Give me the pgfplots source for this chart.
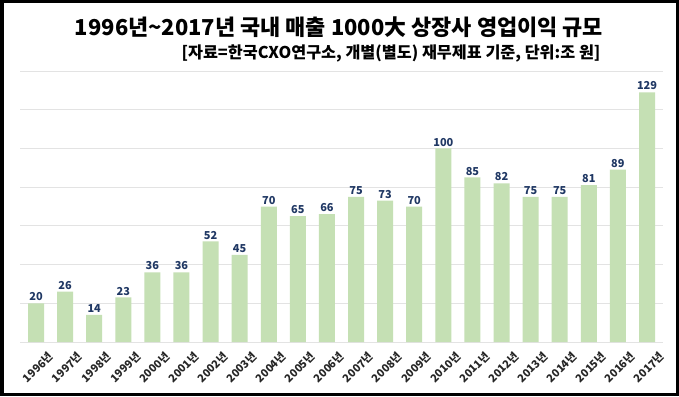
\documentclass[border=0pt]{standalone}
\usepackage{fontspec}
\setmainfont{Noto Sans CJK KR}
\usepackage{pgfplots}
\pgfplotsset{compat=1.18}
\definecolor{barg}{HTML}{C5E0B4}
\definecolor{lab}{HTML}{203864}
\definecolor{gridc}{HTML}{E3E3E3}
\begin{document}
\begin{tikzpicture}[x=1bp,y=1bp]
\useasboundingbox (0,0) rectangle (679,396);
\fill[white] (0,0) rectangle (679,396);
\begin{axis}[
  at={(20bp,54bp)}, anchor=south west,
  scale only axis, width=643bp, height=271bp,
  ymin=0, ymax=140, ytick={0,20,...,140},
  yticklabels={}, ytick style={draw=none},
  ymajorgrids, grid style={draw=gridc, line width=0.8pt},
  axis line style={draw=none},
  xmin=-0.55, xmax=21.55,
  xtick={0,...,21},
  xticklabels={1996년,1997년,1998년,1999년,2000년,2001년,2002년,2003년,2004년,2005년,2006년,2007년,2008년,2009년,2010년,2011년,2012년,2013년,2014년,2015년,2016년,2017년},
  xtick style={draw=none},
  xticklabel style={rotate=45, anchor=north east, font=\bfseries\fontsize{11}{12}\selectfont, text=black!85, inner sep=0pt, xshift=5bp, yshift=-11bp},
  /pgf/number format/assume math mode=true,
  nodes near coords,
  nodes near coords style={font=\bfseries\fontsize{11}{12}\selectfont, text=lab, inner sep=2pt},
  ybar, bar width=16bp,
  clip=false,
]
\addplot[fill=barg, draw=none] coordinates {
(0,20) (1,26) (2,14) (3,23) (4,36) (5,36) (6,52) (7,45) (8,70) (9,65) (10,66)
(11,75) (12,73) (13,70) (14,100) (15,85) (16,82) (17,75) (18,75) (19,81) (20,89) (21,129)};
\end{axis}
\node[font=\bfseries\fontsize{22}{26}\selectfont] at (339,369) {1996년\textasciitilde2017년 국내 매출 1000大 상장사 영업이익 규모};
\node[font=\bfseries\fontsize{16.3}{18}\selectfont, anchor=east] at (604,343) {[자료=한국CXO연구소, 개별(별도) 재무제표 기준, 단위:조 원]};
\draw[black, line width=3.5bp] (1.75,1.75) rectangle (677.25,394.25);
\end{tikzpicture}
\end{document}
